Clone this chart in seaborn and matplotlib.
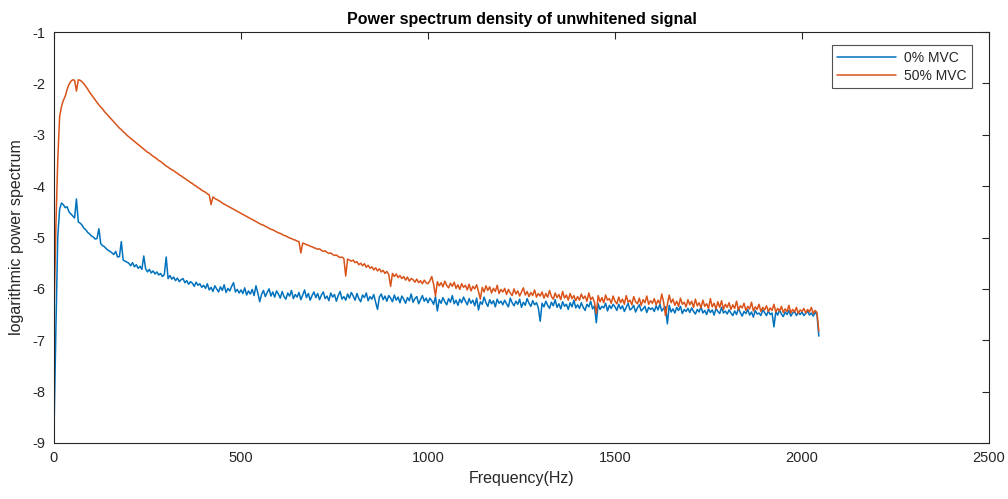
import numpy as np
import pandas as pd
import matplotlib
matplotlib.use("Agg")
import matplotlib.pyplot as plt
import seaborn as sns

# ---- data ----
freq_hz = list(range(0, 2046, 5))

psd_0_mvc = [
    -8.75, -6.80, -5.00, -4.45, -4.33, -4.36, -4.42, -4.40, -4.50, -4.54, -4.58, -4.62, -4.25, -4.70, -4.72, -4.76, -4.82, -4.85, -4.90, -4.93,
    -4.97, -4.99, -5.03, -5.02, -4.83, -5.12, -5.16, -5.18, -5.22, -5.25, -5.27, -5.30, -5.33, -5.27, -5.38, -5.37, -5.08, -5.44, -5.46, -5.48,
    -5.50, -5.55, -5.49, -5.57, -5.53, -5.60, -5.56, -5.62, -5.36, -5.61, -5.67, -5.62, -5.69, -5.65, -5.71, -5.67, -5.73, -5.70, -5.76, -5.72,
    -5.38, -5.80, -5.74, -5.81, -5.77, -5.84, -5.79, -5.86, -5.82, -5.80, -5.88, -5.84, -5.91, -5.86, -5.89, -5.95, -5.87, -5.93, -5.90, -5.97,
    -5.93, -5.99, -5.90, -6.02, -5.97, -6.05, -5.94, -6.00, -6.06, -5.96, -6.03, -5.92, -6.07, -5.99, -6.04, -5.95, -5.88, -6.06, -6.01, -6.08,
    -6.02, -6.09, -5.98, -6.12, -6.04, -6.10, -6.01, -6.13, -5.94, -6.08, -6.25, -6.11, -6.03, -6.15, -6.07, -6.00, -6.14, -6.06, -6.16, -6.04,
    -6.10, -6.18, -6.05, -6.15, -6.20, -6.08, -6.14, -6.03, -6.19, -6.11, -6.16, -6.07, -6.21, -6.12, -6.02, -6.17, -6.09, -6.22, -6.13, -6.06,
    -6.17, -6.09, -6.21, -6.12, -6.06, -6.19, -6.14, -6.23, -6.08, -6.16, -6.11, -6.24, -6.13, -6.05, -6.20, -6.15, -6.22, -6.10, -6.18, -6.07,
    -6.14, -6.22, -6.09, -6.19, -6.25, -6.12, -6.17, -6.08, -6.23, -6.15, -6.20, -6.11, -6.26, -6.40, -6.16, -6.10, -6.21, -6.14, -6.24, -6.13,
    -6.18, -6.25, -6.12, -6.22, -6.16, -6.27, -6.14, -6.20, -6.28, -6.17, -6.23, -6.10, -6.26, -6.19, -6.15, -6.29, -6.21, -6.13, -6.24, -6.18,
    -6.27, -6.18, -6.23, -6.30, -6.15, -6.43, -6.21, -6.28, -6.17, -6.25, -6.31, -6.19, -6.26, -6.13, -6.29, -6.22, -6.32, -6.20, -6.27, -6.16,
    -6.24, -6.31, -6.19, -6.28, -6.22, -6.33, -6.18, -6.41, -6.25, -6.30, -6.16, -6.27, -6.34, -6.21, -6.29, -6.23, -6.35, -6.20, -6.28, -6.24,
    -6.31, -6.22, -6.29, -6.35, -6.18, -6.27, -6.33, -6.24, -6.30, -6.20, -6.36, -6.26, -6.32, -6.19, -6.28, -6.34, -6.23, -6.31, -6.27, -6.37,
    -6.63, -6.28, -6.35, -6.24, -6.32, -6.38, -6.26, -6.33, -6.21, -6.36, -6.29, -6.39, -6.25, -6.34, -6.30, -6.40, -6.27, -6.35, -6.22, -6.37,
    -6.31, -6.38, -6.27, -6.36, -6.42, -6.30, -6.35, -6.24, -6.39, -6.33, -6.66, -6.29, -6.40, -6.34, -6.37, -6.28, -6.43, -6.32, -6.38, -6.30,
    -6.35, -6.42, -6.30, -6.39, -6.33, -6.44, -6.36, -6.28, -6.41, -6.38, -6.32, -6.45, -6.37, -6.31, -6.43, -6.39, -6.34, -6.46, -6.36, -6.40,
    -6.37, -6.44, -6.33, -6.41, -6.30, -6.43, -6.38, -6.35, -6.68, -6.32, -6.45, -6.39, -6.47, -6.36, -6.42, -6.34, -6.48, -6.40, -6.44, -6.38,
    -6.46, -6.37, -6.44, -6.49, -6.40, -6.45, -6.35, -6.47, -6.42, -6.50, -6.39, -6.46, -6.41, -6.51, -6.38, -6.44, -6.48, -6.36, -6.47, -6.43,
    -6.49, -6.41, -6.47, -6.52, -6.43, -6.50, -6.38, -6.46, -6.53, -6.44, -6.48, -6.40, -6.51, -6.45, -6.55, -6.42, -6.49, -6.47, -6.52, -6.41,
    -6.46, -6.52, -6.43, -6.50, -6.47, -6.74, -6.44, -6.51, -6.41, -6.49, -6.54, -6.45, -6.50, -6.42, -6.53, -6.47, -6.44, -6.52, -6.46, -6.50,
    -6.45, -6.52, -6.48, -6.43, -6.51, -6.47, -6.53, -6.46, -6.50, -6.92,
]

psd_50_mvc = [
    -6.50, -4.80, -3.50, -2.65, -2.45, -2.33, -2.25, -2.12, -2.02, -1.96, -1.93, -1.94, -2.15, -1.93, -1.94, -1.97, -2.01, -2.06, -2.11, -2.17,
    -2.22, -2.27, -2.32, -2.37, -2.42, -2.46, -2.50, -2.55, -2.59, -2.63, -2.67, -2.71, -2.75, -2.79, -2.83, -2.87, -2.90, -2.94, -2.97, -3.01,
    -3.04, -3.07, -3.10, -3.13, -3.16, -3.19, -3.22, -3.25, -3.28, -3.31, -3.34, -3.36, -3.39, -3.42, -3.44, -3.47, -3.50, -3.52, -3.55, -3.58,
    -3.61, -3.63, -3.66, -3.68, -3.70, -3.73, -3.75, -3.78, -3.80, -3.83, -3.85, -3.88, -3.90, -3.93, -3.95, -3.98, -4.00, -4.03, -4.05, -4.08,
    -4.10, -4.12, -4.15, -4.17, -4.36, -4.21, -4.24, -4.26, -4.28, -4.30, -4.33, -4.35, -4.37, -4.39, -4.41, -4.43, -4.45, -4.47, -4.49, -4.51,
    -4.53, -4.55, -4.57, -4.59, -4.61, -4.63, -4.65, -4.67, -4.69, -4.71, -4.73, -4.75, -4.76, -4.78, -4.80, -4.82, -4.84, -4.85, -4.87, -4.89,
    -4.91, -4.92, -4.94, -4.96, -4.97, -4.99, -5.01, -5.02, -5.04, -5.05, -5.07, -5.08, -5.30, -5.11, -5.12, -5.14, -5.15, -5.17, -5.18, -5.20,
    -5.21, -5.23, -5.22, -5.25, -5.27, -5.26, -5.29, -5.31, -5.30, -5.33, -5.35, -5.34, -5.37, -5.39, -5.38, -5.41, -5.75, -5.42, -5.44, -5.46,
    -5.44, -5.49, -5.47, -5.53, -5.50, -5.55, -5.51, -5.58, -5.54, -5.60, -5.57, -5.63, -5.59, -5.65, -5.61, -5.67, -5.64, -5.70, -5.66, -5.72,
    -5.95, -5.70, -5.76, -5.71, -5.78, -5.74, -5.80, -5.76, -5.83, -5.77, -5.85, -5.80, -5.82, -5.87, -5.81, -5.88, -5.84, -5.90, -5.83, -5.88,
    -5.90, -5.84, -5.76, -5.91, -6.14, -5.86, -5.94, -5.88, -5.96, -5.85, -5.93, -5.98, -5.89, -5.95, -5.87, -5.99, -5.92, -6.01, -5.90, -5.97,
    -5.93, -6.02, -5.91, -6.04, -5.95, -6.00, -5.92, -6.05, -6.20, -5.97, -6.06, -5.94, -6.03, -5.96, -6.08, -5.99, -6.05, -5.93, -6.09, -6.01,
    -6.06, -5.99, -6.11, -6.01, -6.08, -6.13, -6.00, -6.10, -6.04, -6.14, -6.06, -5.98, -6.12, -6.05, -6.15, -6.07, -6.13, -6.02, -6.16, -6.09,
    -6.14, -6.06, -6.18, -6.09, -6.16, -6.03, -6.15, -6.20, -6.08, -6.17, -6.11, -6.21, -6.05, -6.18, -6.12, -6.22, -6.09, -6.19, -6.13, -6.23,
    -6.15, -6.22, -6.10, -6.19, -6.14, -6.24, -6.08, -6.21, -6.16, -6.26, -6.48, -6.13, -6.25, -6.17, -6.27, -6.12, -6.22, -6.19, -6.28, -6.14,
    -6.24, -6.29, -6.16, -6.27, -6.20, -6.30, -6.13, -6.26, -6.22, -6.31, -6.15, -6.25, -6.29, -6.18, -6.32, -6.21, -6.27, -6.14, -6.30, -6.23,
    -6.28, -6.19, -6.31, -6.22, -6.29, -6.10, -6.26, -6.52, -6.30, -6.12, -6.27, -6.20, -6.32, -6.24, -6.34, -6.18, -6.30, -6.26, -6.35, -6.21,
    -6.31, -6.24, -6.36, -6.20, -6.33, -6.27, -6.37, -6.22, -6.34, -6.29, -6.38, -6.19, -6.35, -6.28, -6.39, -6.25, -6.36, -6.23, -6.40, -6.30,
    -6.36, -6.27, -6.40, -6.31, -6.38, -6.24, -6.41, -6.33, -6.37, -6.28, -6.42, -6.34, -6.39, -6.26, -6.43, -6.35, -6.40, -6.30, -6.44, -6.36,
    -6.41, -6.33, -6.44, -6.37, -6.42, -6.30, -6.45, -6.38, -6.43, -6.34, -6.46, -6.39, -6.44, -6.32, -6.47, -6.40, -6.45, -6.36, -6.48, -6.41,
    -6.44, -6.38, -6.47, -6.40, -6.45, -6.36, -6.48, -6.42, -6.46, -6.82,
]

series_names = ["0% MVC", "50% MVC"]
series_colors = ["#0072BD", "#D95319"]
x_ticks = [0, 500, 1000, 1500, 2000, 2500]
y_ticks = [-9, -8, -7, -6, -5, -4, -3, -2, -1]

df = pd.DataFrame({
    "freq": freq_hz * 2,
    "psd": psd_0_mvc + psd_50_mvc,
    "series": [series_names[0]] * len(freq_hz) + [series_names[1]] * len(freq_hz),
})

sns.set_style("white")
plt.rcParams["font.family"] = ["Liberation Sans", "DejaVu Sans"]

fig = plt.figure(figsize=(10.08, 4.99), dpi=100)
ax = fig.add_axes([54 / 1008, 1 - 443 / 499, 935 / 1008, 411 / 499])

sns.lineplot(data=df, x="freq", y="psd", hue="series", palette=series_colors,
             linewidth=1.1, ax=ax, sort=False, estimator=None)

ax.set_xlim(0, 2500)
ax.set_ylim(-9, -1)
ax.set_xticks(x_ticks)
ax.set_yticks(y_ticks)
ax.set_xticklabels([str(t) for t in x_ticks])
ax.set_yticklabels([str(t) for t in y_ticks])
ax.tick_params(direction="in", length=5, width=0.8, top=True, right=True,
               labelsize=10.5, colors="#262626", pad=6)
for s in ax.spines.values():
    s.set_color("#262626")
    s.set_linewidth(0.8)

ax.set_xlabel("Frequency(Hz)", fontsize=11.5, color="#262626", labelpad=4)
ax.set_ylabel("logarithmic power spectrum", fontsize=11.5, color="#262626", labelpad=6)
ax.set_title("Power spectrum density of unwhitened signal", fontsize=11.5,
             fontweight="bold", color="black", pad=6)

leg = ax.legend(loc="upper right", bbox_to_anchor=(0.982, 0.968), fontsize=10,
                frameon=True, fancybox=False, borderaxespad=0, handlelength=4.2,
                borderpad=0.4, labelspacing=0.3, handletextpad=0.6)
leg.get_frame().set_edgecolor("#262626")
leg.get_frame().set_linewidth(0.8)

fig.savefig("out.png", dpi=100)
